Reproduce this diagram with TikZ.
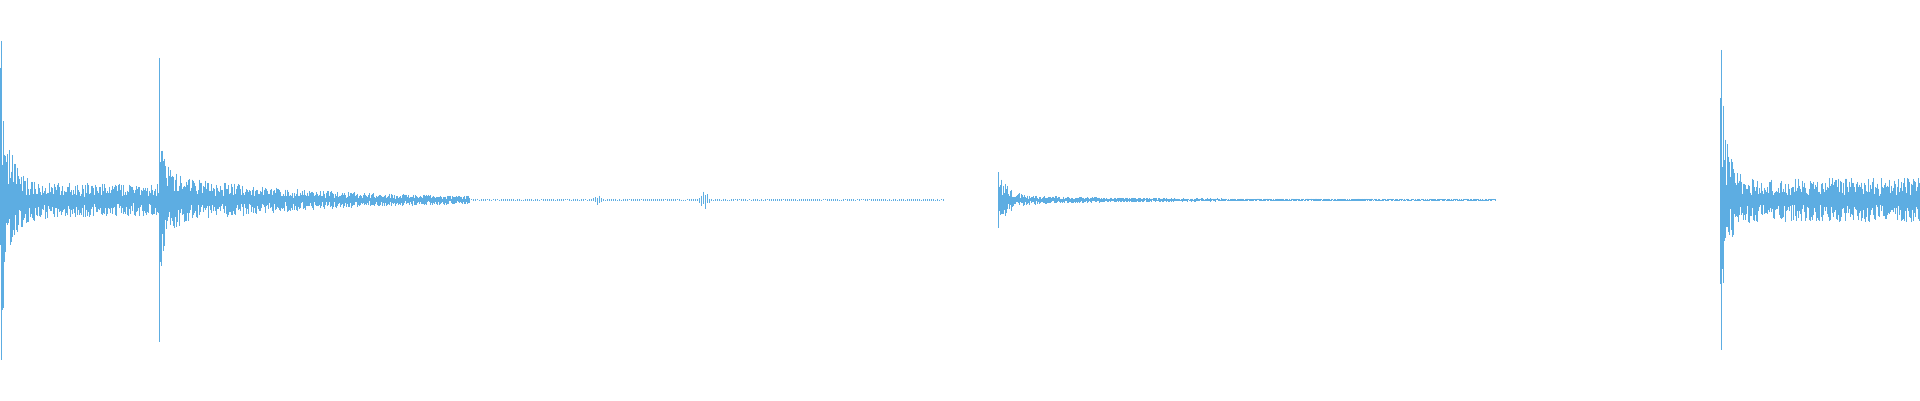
\documentclass[tikz,border=0pt]{standalone}
\definecolor{wave}{HTML}{5DADE2}
\begin{document}
\begin{tikzpicture}[x=1pt,y=1pt,w/.style={draw=wave,line width=0.45pt}]
\pgfmathsetseed{7}
\fill[white] (0,0) rectangle (1920,400);
\useasboundingbox (0,0) rectangle (1920,400);
% burst 1
\foreach \x in {0.5,1.3,...,159}{
 \pgfmathsetmacro\A{16+130*exp(-\x/7)+10*exp(-\x/40)}
 \pgfmathsetmacro\u{\A*(0.2+0.8*rnd)}\pgfmathsetmacro\d{\A*(0.2+0.8*rnd)}
 \draw[w] (\x,200+\u) -- (\x,200-\d);}
% burst 2
\foreach \x in {159,159.8,...,470}{
 \pgfmathsetmacro\t{\x-159}
 \pgfmathsetmacro\A{2+26*exp(-\t/130)+120*exp(-\t/5)}
 \pgfmathsetmacro\u{\A*(0.2+0.8*rnd)}\pgfmathsetmacro\d{\A*(0.2+0.8*rnd)}
 \draw[w] (\x,200+\u) -- (\x,200-\d);}
% quiet
\foreach \x in {471,473,...,943}{
 \pgfmathsetmacro\A{1.2+5*exp(-((\x-598)/4)^2)+9*exp(-((\x-704)/4)^2)}
 \pgfmathsetmacro\u{\A*(0.3+0.7*rnd)}\pgfmathsetmacro\d{\A*(0.3+0.7*rnd)}
 \draw[w] (\x,200+\u) -- (\x,200-\d);}
% burst 3
\foreach \x in {998,998.8,...,1495}{
 \pgfmathsetmacro\t{\x-998}
 \pgfmathsetmacro\A{1.2+25*exp(-\t/8)+5*exp(-\t/90)}
 \pgfmathsetmacro\u{\A*(0.2+0.8*rnd)}\pgfmathsetmacro\d{\A*(0.2+0.8*rnd)}
 \draw[w] (\x,200+\u) -- (\x,200-\d);}
% burst 4
\foreach \x in {1720,1720.8,...,1920}{
 \pgfmathsetmacro\t{\x-1720}
 \pgfmathsetmacro\A{22+130*exp(-\t/6)}
 \pgfmathsetmacro\u{\A*(0.2+0.8*rnd)}\pgfmathsetmacro\d{\A*(0.2+0.8*rnd)}
 \draw[w] (\x,200+\u) -- (\x,200-\d);}
% tallest spikes
\draw[w] (1,359) -- (1,40);
\draw[w] (159,342) -- (159,58);
\draw[w] (1721,350) -- (1721,50);
\draw[w] (998,228) -- (998,172);
\end{tikzpicture}
\end{document}
